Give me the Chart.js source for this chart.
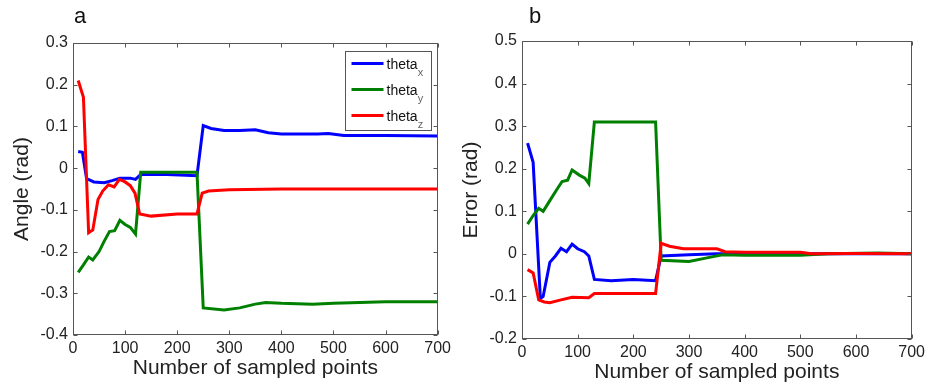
<!DOCTYPE html>
<html>
<head>
<meta charset="utf-8">
<script src="https://cdn.jsdelivr.net/npm/chart.js@4.4.0/dist/chart.umd.min.js"></script>
<style>
  body { margin: 0; background: #fff; }
  .panel { position: absolute; top: 0; height: 386px; }
  #panel-a { left: 0; width: 455px; }
  #panel-b { left: 455px; width: 474px; }
</style>
</head>
<body>
<div class="panel" id="panel-a"><canvas id="chart-a"></canvas></div>
<div class="panel" id="panel-b"><canvas id="chart-b"></canvas></div>
<script>
// --- (a) angle, values ---
const angleX_pts = [10, 18, 26, 40, 60, 75, 90, 110, 120, 130, 180, 238, 250, 265, 290, 320, 350, 375, 400, 470, 490, 520, 600, 700];
const angleX_val = [0.04, 0.038, -0.025, -0.033, -0.035, -0.03, -0.024, -0.024, -0.027, -0.015, -0.015, -0.018, 0.102, 0.095, 0.09, 0.09, 0.092, 0.085, 0.082, 0.082, 0.083, 0.078, 0.078, 0.077];

const angleY_pts = [10, 20, 30, 38, 50, 60, 70, 80, 90, 100, 110, 120, 130, 238, 250, 290, 320, 350, 370, 400, 460, 500, 600, 700];
const angleY_val = [-0.25, -0.232, -0.213, -0.22, -0.2, -0.175, -0.152, -0.15, -0.125, -0.135, -0.142, -0.158, -0.01, -0.01, -0.335, -0.34, -0.335, -0.326, -0.322, -0.324, -0.326, -0.324, -0.32, -0.32];

const angleZ_pts = [10, 20, 30, 38, 48, 57, 68, 79, 89, 100, 110, 119, 128, 150, 200, 238, 248, 260, 300, 400, 700];
const angleZ_val = [0.21, 0.17, -0.155, -0.148, -0.075, -0.055, -0.04, -0.045, -0.027, -0.033, -0.042, -0.06, -0.11, -0.115, -0.11, -0.11, -0.06, -0.055, -0.052, -0.05, -0.05];

// --- (b) error ---
const errX_pts = [10, 20, 33, 38, 50, 60, 70, 80, 90, 100, 112, 120, 130, 160, 200, 240, 250, 300, 350, 700];
const errX_val = [0.26, 0.215, -0.105, -0.1, -0.02, -0.005, 0.013, 0.005, 0.023, 0.012, 0.005, -0.005, -0.06, -0.063, -0.06, -0.063, -0.005, -0.002, 0, 0];

const errY_pts = [10, 20, 30, 38, 50, 62, 72, 82, 90, 103, 113, 120, 130, 240, 250, 300, 330, 360, 400, 500, 550, 640, 700];
const errY_val = [0.07, 0.09, 0.107, 0.1, 0.125, 0.15, 0.17, 0.173, 0.197, 0.185, 0.178, 0.165, 0.31, 0.31, -0.015, -0.018, -0.01, -0.002, -0.003, -0.003, 0, 0.002, 0];

const errZ_pts = [10, 20, 30, 40, 50, 70, 90, 120, 130, 240, 250, 265, 290, 350, 365, 400, 500, 520, 600, 700];
const errZ_val = [-0.037, -0.045, -0.108, -0.113, -0.115, -0.108, -0.102, -0.103, -0.093, -0.093, 0.025, 0.018, 0.012, 0.012, 0.005, 0.004, 0.004, 0, 0.001, 0];

const legendName = 'theta';
const legendSubs = ['x', 'y', 'z'];
const seriesColors = ['#0000ff', '#008000', '#ff0000'];

Chart.defaults.font.family = '"Liberation Sans", Arial, sans-serif';
Chart.defaults.color = '#222';

function toPoints(xs, ys) {
  return xs.map((x, i) => ({ x: x, y: ys[i] }));
}

function tickLabel(v) {
  if (Math.abs(v) < 1e-9) return '0';
  return String(+v.toFixed(1));
}

// box + inward ticks on all four sides, panel letter, legend inside the axes
const matlabFrame = {
  id: 'matlabFrame',
  afterDatasetsDraw(chart, args, opts) {
    const ctx = chart.ctx;
    const a = chart.chartArea;
    const sx = chart.scales.x, sy = chart.scales.y;
    const L = Math.round(a.left) + 0.5, R = Math.round(a.right) - 0.5;
    const T = Math.round(a.top) + 0.5, B = Math.round(a.bottom) - 0.5;
    ctx.save();
    ctx.strokeStyle = '#555';
    ctx.lineWidth = 1;
    ctx.beginPath();
    sx.ticks.forEach(t => {
      const px = Math.round(sx.getPixelForValue(t.value)) + 0.5;
      ctx.moveTo(px, B); ctx.lineTo(px, B - 4);
      ctx.moveTo(px, T); ctx.lineTo(px, T + 4);
    });
    sy.ticks.forEach(t => {
      const py = Math.round(sy.getPixelForValue(t.value)) + 0.5;
      ctx.moveTo(L, py); ctx.lineTo(L + 4, py);
      ctx.moveTo(R, py); ctx.lineTo(R - 4, py);
    });
    ctx.stroke();
    ctx.strokeRect(L, T, R - L, B - T);

    // panel letter
    ctx.fillStyle = '#111';
    ctx.font = '22px "Liberation Sans", Arial, sans-serif';
    ctx.textBaseline = 'alphabetic';
    ctx.fillText(opts.letter, a.left + 1 + opts.letterDx, 23);

    if (opts.legend) {
      const w = 86, h = 79;
      const bx = Math.round(a.right) - 7 - w + 0.5, by = Math.round(a.top) + 8 + 0.5;
      ctx.fillStyle = '#fff';
      ctx.fillRect(bx, by, w, h);
      ctx.strokeStyle = '#555';
      ctx.strokeRect(bx, by, w, h);
      chart.data.datasets.forEach((ds, i) => {
        const ly = by + 12 + i * 26;
        ctx.strokeStyle = ds.borderColor;
        ctx.lineWidth = 3;
        ctx.beginPath();
        ctx.moveTo(bx + 6, ly); ctx.lineTo(bx + 38, ly);
        ctx.stroke();
        ctx.fillStyle = '#111';
        ctx.font = '14px "Liberation Sans", Arial, sans-serif';
        ctx.fillText(legendName, bx + 41, ly + 5);
        const tw = ctx.measureText(legendName).width;
        ctx.font = '11px "Liberation Sans", Arial, sans-serif';
        ctx.fillStyle = '#666';
        ctx.fillText(legendSubs[i], bx + 41 + tw, ly + 12);
      });
    }
    ctx.restore();
  }
};

function makeChart(id, sets, o) {
  const datasets = sets.map((s, i) => ({
    label: legendName + legendSubs[i],
    data: toPoints(s[0], s[1]),
    borderColor: seriesColors[i],
    borderWidth: 3,
    pointRadius: 0,
    tension: 0,
    fill: false,
    order: 3 - i
  }));
  return new Chart(document.getElementById(id), {
    type: 'line',
    data: { datasets: datasets },
    options: {
      responsive: true,
      maintainAspectRatio: false,
      animation: false,
      layout: { padding: { left: 0, right: o.padRight, top: o.padTop, bottom: 0 } },
      plugins: {
        legend: { display: false },
        tooltip: { enabled: false },
        matlabFrame: { letter: o.letter, letterDx: o.letterDx, legend: o.legend }
      },
      scales: {
        x: {
          type: 'linear',
          min: 0, max: 700,
          grid: { display: false, drawTicks: false },
          border: { display: false },
          ticks: { stepSize: 100, padding: 4, font: { size: 16 }, color: '#222', maxRotation: 0, callback: tickLabel },
          title: { display: true, text: 'Number of sampled points', font: { size: 21 }, color: '#222', padding: { top: 0, bottom: o.xTitlePad } },
          afterFit: s => { s.height = o.xHeight; }
        },
        y: {
          min: o.yMin, max: o.yMax,
          grid: { display: false, drawTicks: false },
          border: { display: false },
          ticks: { stepSize: 0.1, padding: 5, font: { size: 16 }, color: '#222', callback: tickLabel },
          title: { display: true, text: o.yTitle, font: { size: 21 }, color: '#222', padding: { top: o.yTitlePad, bottom: 0 } },
          afterFit: s => { s.width = o.yWidth; }
        }
      }
    },
    plugins: [matlabFrame]
  });
}

makeChart('chart-a',
  [[angleX_pts, angleX_val], [angleY_pts, angleY_val], [angleZ_pts, angleZ_val]],
  { yMin: -0.4, yMax: 0.3, yTitle: 'Angle (rad)', letter: 'a', letterDx: 0, legend: true,
    padRight: 15, padTop: 43, yWidth: 73, xHeight: 51, xTitlePad: 5, yTitlePad: 10 });

makeChart('chart-b',
  [[errX_pts, errX_val], [errY_pts, errY_val], [errZ_pts, errZ_val]],
  { yMin: -0.2, yMax: 0.5, yTitle: 'Error (rad)', letter: 'b', letterDx: 6, legend: false,
    padRight: 16, padTop: 41, yWidth: 67, xHeight: 47, xTitlePad: 1, yTitlePad: 4 });
</script>
</body>
</html>
